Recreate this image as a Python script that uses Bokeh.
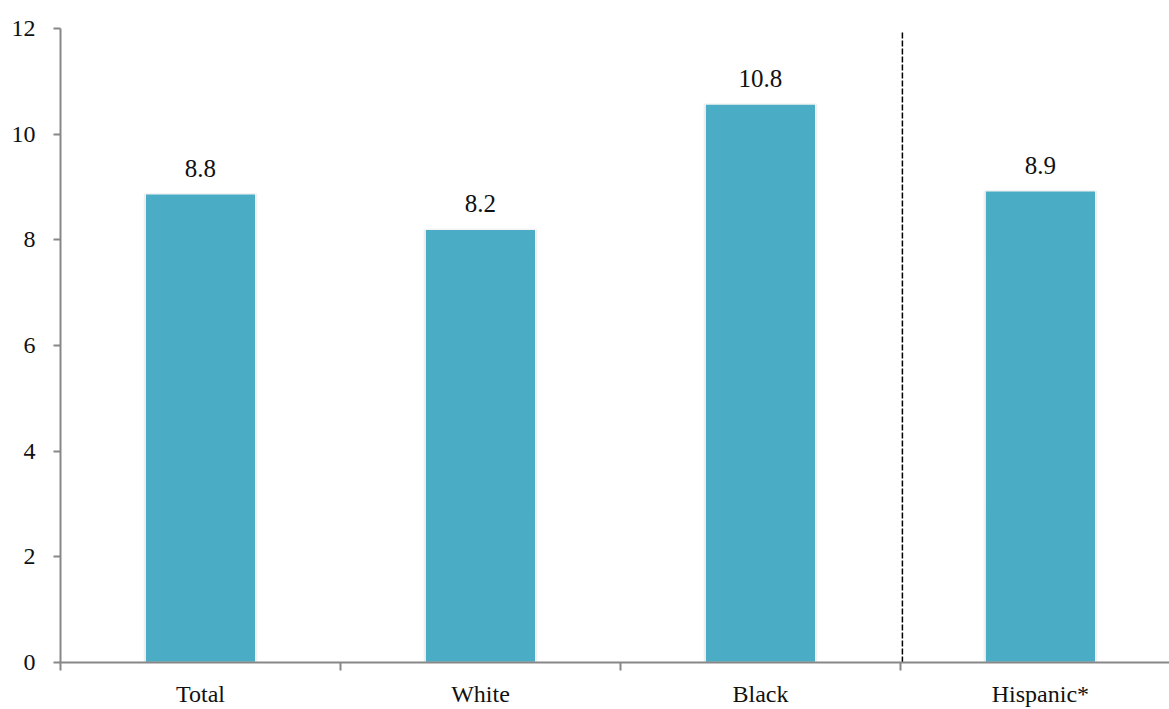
from bokeh.plotting import figure
from bokeh.models import ColumnDataSource, FixedTicker, Range1d
from bokeh.core.properties import value
from bokeh.embed import file_html
from bokeh.resources import INLINE

categories = ["Total", "White", "Black", "Hispanic*"]
bar_values = [8.87, 8.2, 10.57, 8.93]
bar_labels = ["8.8", "8.2", "10.8", "8.9"]
y_ticks = [0, 2, 4, 6, 8, 10, 12]

FONT = "Liberation Serif"
BAR_COLOR = "#4BACC6"
AXIS_COLOR = "#878787"

centers = [i + 0.5 for i in range(len(categories))]
src = ColumnDataSource(dict(x=centers, top=bar_values, label=bar_labels))

p = figure(width=1169, height=709, output_backend="svg", toolbar_location=None,
           x_range=Range1d(0, 3.961), y_range=Range1d(0, 12))
p.min_border_left = 60
p.min_border_right = 0
p.min_border_top = 28
p.min_border_bottom = 46
p.outline_line_color = None
p.xgrid.visible = False
p.ygrid.visible = False
p.background_fill_color = "white"
p.border_fill_color = "white"

# soft shadow and bars
p.vbar(x="x", top="top", width=0.405, bottom=0, source=src,
       fill_color="#e9e9e9", line_color=None)
p.vbar(x="x", top="top", width=0.395, bottom=0, source=src,
       fill_color=BAR_COLOR, line_color="#f4f4f4", line_width=1.5)

p.text(x="x", y="top", text="label", source=src, y_offset=-17,
       text_align="center", text_baseline="bottom",
       text_font=value(FONT), text_font_size="25px", text_color="#111111")

# dashed separator
p.segment(x0=[3.007], y0=[0], x1=[3.007], y1=[11.93],
          line_color="black", line_width=1.5, line_dash="6 2")

# y axis
yax = p.yaxis[0]
yax.ticker = FixedTicker(ticks=y_ticks)
yax.axis_line_color = AXIS_COLOR
yax.axis_line_width = 2
yax.major_tick_line_color = AXIS_COLOR
yax.major_tick_line_width = 2
yax.major_tick_out = 7
yax.major_tick_in = 0
yax.minor_tick_line_color = None
yax.major_label_standoff = 18
yax.major_label_text_font = FONT
yax.major_label_text_font_size = "24px"
yax.major_label_text_color = "#111111"

# x axis: labels at bar centres, ticks at category boundaries
xax = p.xaxis[0]
xax.ticker = FixedTicker(ticks=centers, minor_ticks=[0, 1, 2, 3])
xax.major_label_overrides = {c: lab for c, lab in zip(centers, categories)}
xax.axis_line_color = AXIS_COLOR
xax.axis_line_width = 2
xax.major_tick_line_color = None
xax.major_tick_out = 0
xax.major_tick_in = 0
xax.minor_tick_line_color = AXIS_COLOR
xax.minor_tick_line_width = 2
xax.minor_tick_out = 8
xax.minor_tick_in = 0
xax.major_label_standoff = 10
xax.major_label_text_font = FONT
xax.major_label_text_font_size = "24px"
xax.major_label_text_color = "#111111"

open("out.html", "w").write(file_html(p, INLINE))
